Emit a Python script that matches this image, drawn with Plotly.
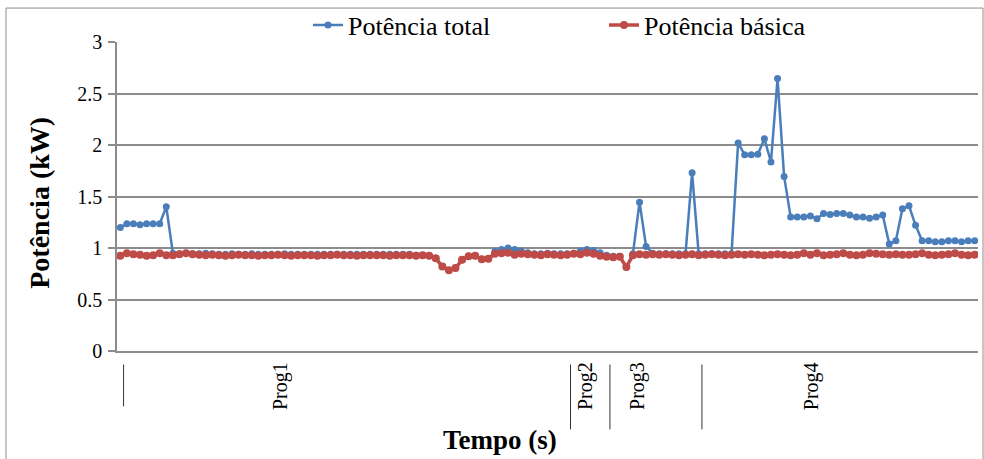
import plotly.graph_objects as go

# ---- data ----
potencia_total = [
    1.20, 1.235, 1.235, 1.225, 1.235, 1.235, 1.235, 1.40, 0.95, 0.945,
    0.95, 0.945, 0.945, 0.95, 0.945, 0.94, 0.94, 0.945, 0.94, 0.94,
    0.945, 0.94, 0.94, 0.94, 0.94, 0.945, 0.94, 0.94, 0.94, 0.94,
    0.94, 0.94, 0.94, 0.94, 0.94, 0.94, 0.94, 0.94, 0.94, 0.94,
    0.94, 0.94, 0.94, 0.94, 0.94, 0.93, 0.93, 0.925, 0.90, 0.82,
    0.785, 0.805, 0.885, 0.92, 0.925, 0.89, 0.895, 0.965, 0.985, 1.0,
    0.985, 0.97, 0.955, 0.945, 0.945, 0.95, 0.945, 0.945, 0.945, 0.95,
    0.97, 0.985, 0.975, 0.955, 0.93, 0.92, 0.92, 0.815, 0.945, 1.445,
    1.015, 0.95, 0.945, 0.945, 0.945, 0.945, 0.945, 1.73, 0.945, 0.945,
    0.945, 0.945, 0.945, 0.945, 2.02, 1.905, 1.905, 1.91, 2.06, 1.835,
    2.645, 1.695, 1.30, 1.30, 1.30, 1.31, 1.285, 1.335, 1.325, 1.335,
    1.335, 1.32, 1.30, 1.30, 1.29, 1.30, 1.32, 1.04, 1.07, 1.38,
    1.41, 1.22, 1.07, 1.07, 1.06, 1.06, 1.07, 1.07, 1.06, 1.07,
    1.07,
]
potencia_basica = [
    0.925, 0.95, 0.94, 0.935, 0.925, 0.93, 0.95, 0.93, 0.93, 0.94,
    0.95, 0.94, 0.935, 0.93, 0.935, 0.93, 0.925, 0.93, 0.935, 0.93,
    0.93, 0.925, 0.93, 0.93, 0.935, 0.93, 0.925, 0.93, 0.93, 0.93,
    0.925, 0.93, 0.93, 0.935, 0.93, 0.93, 0.925, 0.93, 0.93, 0.93,
    0.93, 0.925, 0.93, 0.93, 0.93, 0.925, 0.93, 0.925, 0.90, 0.82,
    0.785, 0.805, 0.885, 0.92, 0.925, 0.89, 0.895, 0.945, 0.95, 0.955,
    0.935, 0.945, 0.94, 0.935, 0.93, 0.94, 0.935, 0.93, 0.935, 0.945,
    0.94, 0.955, 0.945, 0.925, 0.915, 0.91, 0.915, 0.815, 0.93, 0.94,
    0.935, 0.94, 0.935, 0.94, 0.935, 0.93, 0.935, 0.94, 0.93, 0.935,
    0.94, 0.935, 0.93, 0.935, 0.94, 0.935, 0.94, 0.935, 0.93, 0.935,
    0.94, 0.935, 0.93, 0.935, 0.95, 0.935, 0.95, 0.93, 0.935, 0.94,
    0.95, 0.935, 0.93, 0.935, 0.95, 0.945, 0.94, 0.935, 0.94, 0.935,
    0.935, 0.94, 0.95, 0.935, 0.93, 0.935, 0.94, 0.95, 0.935, 0.93,
    0.935,
]
samples = list(range(len(potencia_total)))

group_names = ["Prog1", "Prog2", "Prog3", "Prog4"]
group_bounds = [0.5, 68.5, 74.5, 88.5]          # category boundaries
group_label_pos = [24.4, 70.8, 78.7, 105.2]     # category position of labels

y_ticks = [0, 0.5, 1, 1.5, 2, 2.5, 3]

FONT = "Liberation Serif, Times New Roman, serif"
BLUE = "#4a7ebb"
RED = "#be4b48"
GRID = "#8c8c8c"

fig = go.Figure()
fig.add_trace(go.Scatter(
    x=samples, y=potencia_total, mode="lines+markers", name="Potência total",
    line=dict(color=BLUE, width=2.5), marker=dict(color=BLUE, size=7),
))
fig.add_trace(go.Scatter(
    x=samples, y=potencia_basica, mode="lines+markers", name="Potência básica",
    line=dict(color=RED, width=3.5), marker=dict(color=RED, size=8),
))

# Plot-area pixel geometry helpers (paper coords)
L, R, T, B = 117, 978, 42, 351.5
W, H = 984, 459
def px(xp):
    return (xp - L) / (R - L)
def py(yp):
    return (B - yp) / (B - T)

shapes = []
for i, b in enumerate(group_bounds):
    y_end = 407 if i == 0 else 430
    shapes.append(dict(type="line", xref="x", yref="paper", x0=b, x1=b,
                       y0=py(365), y1=py(y_end),
                       line=dict(color="#333333", width=1)))
# outer chart border
shapes.append(dict(type="rect", xref="paper", yref="paper",
                   x0=px(6), x1=px(983), y0=py(8), y1=py(470),
                   line=dict(color="#8c8c8c", width=1), layer="below"))

annotations = []
for name, pos in zip(group_names, group_label_pos):
    annotations.append(dict(x=pos, y=py(387), xref="x", yref="paper",
                            xanchor="center", yanchor="middle",
                            text=name, textangle=-90, showarrow=False,
                            font=dict(family=FONT, size=20, color="black")))
annotations.append(dict(x=px(500), y=py(441), xref="paper", yref="paper",
                        xanchor="center", yanchor="middle",
                        text="<b>Tempo (s)</b>", showarrow=False,
                        font=dict(family=FONT, size=27, color="black")))
annotations.append(dict(x=px(40), y=py(203), xref="paper", yref="paper",
                        xanchor="center", yanchor="middle",
                        text="<b>Potência (kW)</b>", textangle=-90, showarrow=False,
                        font=dict(family=FONT, size=28, color="black")))

fig.update_layout(
    width=W, height=H,
    margin=dict(l=L, r=W - R, t=T, b=H - B, autoexpand=False),
    paper_bgcolor="white", plot_bgcolor="white",
    font=dict(family=FONT, color="black"),
    showlegend=True,
    legend=dict(orientation="h", x=px(308), xanchor="left", y=py(25), yanchor="middle",
                font=dict(family=FONT, size=26, color="black"),
                entrywidth=251, entrywidthmode="pixels",
                bgcolor="rgba(0,0,0,0)"),
    xaxis=dict(range=[-0.5, len(samples) - 0.5], showgrid=False, zeroline=False,
               showticklabels=False, ticks="", showline=True, linecolor=GRID,
               linewidth=1.5, automargin=False),
    yaxis=dict(range=[0, 3], tickvals=y_ticks, showgrid=True, gridcolor=GRID,
               gridwidth=1.5, zeroline=False, showline=True, linecolor=GRID,
               linewidth=1.5, ticks="outside", ticklen=7, tickcolor=GRID,
               tickwidth=1.5, ticklabelstandoff=2, automargin=False,
               tickfont=dict(family=FONT, size=20, color="black")),
    shapes=shapes,
    annotations=annotations,
)

fig.write_html("out.html", config={"displayModeBar": False},
               post_script="document.body.style.margin='0';")
